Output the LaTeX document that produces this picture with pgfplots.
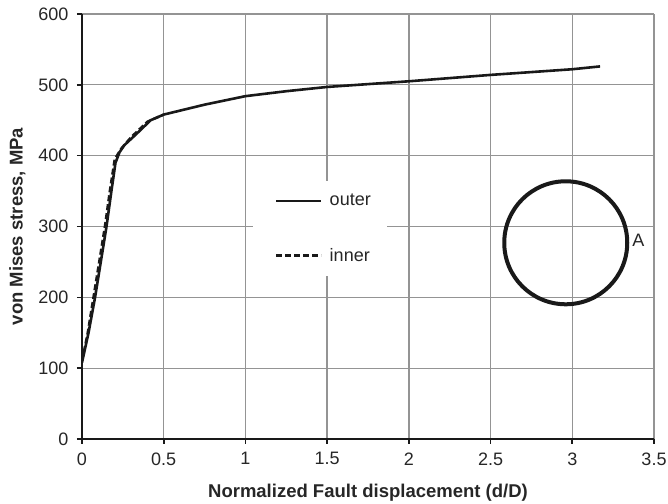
\documentclass[border=0pt]{standalone}
\usepackage{pgfplots}
\pgfplotsset{compat=1.18}
\usepackage{fontspec}
\setmainfont{Liberation Sans}
\begin{document}
\begin{tikzpicture}
\begin{axis}[
  name=ax,
  scale only axis,
  width=572pt, height=425pt,
  xmin=0, xmax=3.5, ymin=0, ymax=600,
  xtick={0,0.5,...,3.5}, ytick={0,100,...,600},
  axis lines=left,
  axis line style={-, line width=1.6pt, black!90},
  grid=major,
  major grid style={line width=1.3pt, color=black!42},
  tick align=outside,
  major tick length=5pt,
  tick style={line width=1.6pt, black!90},
  xticklabel style={font=\fontsize{18}{20}\selectfont, text=black!85, yshift=-5pt},
  yticklabel style={font=\fontsize{18}{20}\selectfont, text=black!85, xshift=-5pt},
  /pgf/number format/assume math mode=true,
  xlabel={\bfseries Normalized Fault displacement (d/D)},
  ylabel={\bfseries von Mises stress, MPa},
  xlabel style={font=\fontsize{18.5}{20}\selectfont, text=black!85, yshift=-12pt},
  ylabel style={font=\fontsize{18.5}{20}\selectfont, text=black!85, yshift=6pt},
  legend style={at={(axis cs:1.046,364)}, anchor=north west, draw=none, fill=white,
    font=\fontsize{18}{20}\selectfont, inner xsep=14pt, inner ysep=11pt,
    row sep=37pt, text=black!85},
  legend cell align=left,
  legend image code/.code={\draw[#1, line width=2.6pt, shorten <=8pt, shorten >=5pt] (0pt,0pt) -- (58pt,0pt);},
]
\addplot[line width=2.6pt, black!90] coordinates {
(0,108) (0.04,150) (0.08,200) (0.115,250) (0.15,300) (0.18,350) (0.205,390)
(0.23,405) (0.26,415) (0.33,430) (0.42,450) (0.5,458) (0.75,472) (1,484)
(1.25,491) (1.5,497) (2,505) (2.5,514) (3,522) (3.17,526)};
\addlegendentry{outer}
\addplot[line width=2.4pt, black!90, dash pattern=on 6pt off 3pt] coordinates {
(0,110) (0.035,150) (0.07,200) (0.105,250) (0.14,300) (0.17,350) (0.2,395)
(0.24,410) (0.3,426) (0.4,448) (0.5,458)};
\addlegendentry{inner}
\draw[line width=4pt, black!90] (axis cs:2.96,277) circle [radius=61.5pt];
\node[font=\fontsize{18}{20}\selectfont, text=black!85] at (axis cs:3.405,281) {A};
\end{axis}
\pgfresetboundingbox
\path ([shift={(-82pt,-65pt)}]ax.south west) rectangle ([shift={(14pt,14pt)}]ax.north east);
\end{tikzpicture}
\end{document}
